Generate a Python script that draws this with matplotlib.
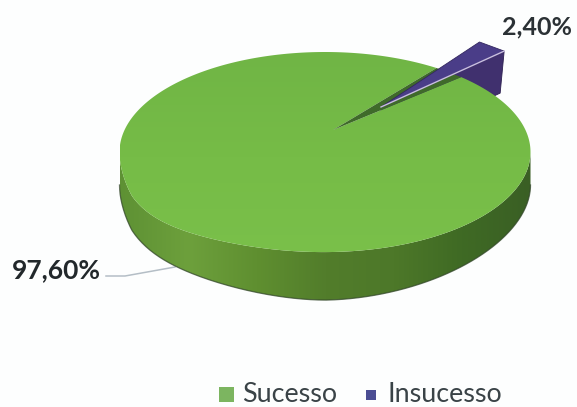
import numpy as np
import matplotlib
matplotlib.use("Agg")
import matplotlib.pyplot as plt
from matplotlib.colors import LinearSegmentedColormap
from matplotlib.patches import Polygon, Rectangle

labels = ["Sucesso", "Insucesso"]
shares = [97.60, 2.40]
share_labels = ["97,60%", "2,40%"]

# pie geometry in image pixels (y points down)
cx, cy = 325, 152
rx, ry = 205.5, 100
apex = np.array([333, 130])
explode = np.array([43, -26])
start = 48.5


def rim(t_deg):
    t_deg = np.asarray(t_deg, dtype=float)
    t = np.radians(t_deg)
    # the scan sags a bit at the lower left of the disc
    u = np.mod(t_deg, 360) - 180
    sag = 10 * np.exp(-((u - 25) / 30) ** 2) * np.clip(u / 20, 0, 1)
    return np.column_stack([cx + rx * np.cos(t), cy - ry * np.sin(t) + sag])


def wall_depth(t_deg):
    # thinner towards the left and right ends
    return 48 - 15 * np.abs(np.cos(np.radians(t_deg))) ** 1.5


plt.rcParams['font.family'] = ['Lato', 'DejaVu Sans']
fig = plt.figure(figsize=(5.77, 4.07), dpi=100, facecolor='#fdfefe')
ax = fig.add_axes([0, 0, 1, 1])

sweep = shares[1] / 100 * 360
t_end = start + sweep

# side wall of the green slice
t_low = np.linspace(180, 360, 240)
top_edge = rim(t_low)
low_edge = top_edge + np.column_stack([np.zeros_like(t_low), wall_depth(t_low)])
side_pts = np.vstack([top_edge, low_edge[::-1]])
side_cmap = LinearSegmentedColormap.from_list(
    "side", ["#5e9134", "#6da03c", "#5f8f30", "#527d2b", "#4d7829", "#3f6a24", "#3a5f24"])
im = ax.imshow(np.linspace(0, 1, 256)[None, :], cmap=side_cmap, aspect='auto',
               extent=[cx - rx, cx + rx, 407, 0], zorder=1)
side = Polygon(side_pts, closed=True, fc='none', ec='none')
ax.add_patch(side)
im.set_clip_path(side)
ax.plot(low_edge[:, 0], low_edge[:, 1], color='#33472a', lw=0.9, alpha=0.75, zorder=2)

# outer wall of the pulled-out slice, the top of the green hides its inner part
p_out = rim([start])[0] + explode
p_apex = apex + explode + [5, 3]
wall = Polygon([p_out, p_out + [-4, 42], p_apex + [0, 42], p_apex],
               closed=True, fc='#40306e', ec='#2c2050', lw=0.6, zorder=3)
ax.add_patch(wall)

# top of the green slice
t_top = np.linspace(t_end, start + 360, 400)
top_pts = np.vstack([rim(t_top), apex])
top_cmap = LinearSegmentedColormap.from_list(
    "top", ["#70b545", "#76bc47", "#7ac04a"])
im2 = ax.imshow(np.linspace(0, 1, 256)[:, None], cmap=top_cmap, aspect='auto',
                extent=[cx - rx, cx + rx, cy + ry + 10, cy - ry], zorder=4)
top = Polygon(top_pts, closed=True, fc='none', ec='none')
ax.add_patch(top)
im2.set_clip_path(top)

# notch left by the slice
notch = Polygon(np.vstack([apex, rim([t_end, start])]), closed=True,
                fc='#3f6a2a', ec='none', zorder=5)
ax.add_patch(notch)

# top of the purple slice
p_a = p_apex
p_b = rim([t_end])[0] + explode
purple = Polygon([p_a, p_b, p_out], closed=True, fc='#4a3d88',
                 ec='#33275f', lw=0.6, zorder=6)
ax.add_patch(purple)
ax.plot([p_a[0], p_out[0]], [p_a[1], p_out[1]], color='#c9bfe0', lw=1.0, zorder=7)

# labels and leader line
ax.text(502, 27, share_labels[1], fontsize=18, color='#2b3135', va='center',
        ha='left', fontweight='bold', zorder=8)
ax.text(12, 270, share_labels[0], fontsize=19, color='#22282b', va='center',
        ha='left', fontweight='bold', zorder=8)
ax.plot([106, 125, 175], [276, 276, 267], color='#b4bec6', lw=1.1, zorder=0.5)

# legend
leg_colors = ['#7cb560', '#4b4d93']
leg_boxes = [(219, 387, 15), (366, 390, 10)]
leg_text_x = [242, 388]
for name, col, box, tx in zip(labels, leg_colors, leg_boxes, leg_text_x):
    ax.add_patch(Rectangle((box[0], box[1]), box[2], box[2], fc=col, ec='none'))
    ax.text(tx, 394, name, fontsize=19.4, color='#3a4347', va='center', ha='left')

ax.set_xlim(0, 577)
ax.set_ylim(407, 0)
ax.axis('off')

fig.savefig("out.png", dpi=100, facecolor=fig.get_facecolor())
